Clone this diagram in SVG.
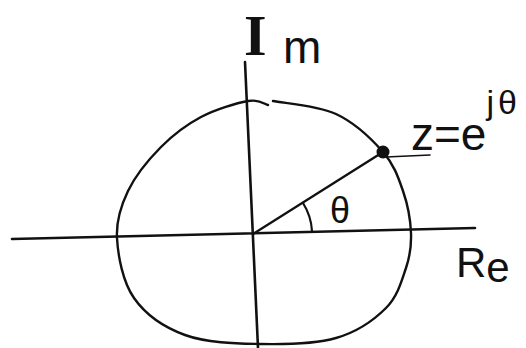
<svg xmlns="http://www.w3.org/2000/svg" width="526" height="348" viewBox="0 0 526 348">
<style>
.ln{fill:none;stroke:#111;stroke-linecap:round;stroke-linejoin:round}
.t{fill:#111;font-family:"Liberation Sans",Arial,sans-serif}
.s{fill:#111;font-family:"Liberation Serif","Times New Roman",serif;font-weight:bold}
</style>
<rect width="526" height="348" fill="#fff"/>
<g id="axes">
<path class="ln" stroke-width="2.6" d="M12,239 L475,228"/>
<path class="ln" stroke-width="2.6" d="M245,62 L258,348"/>
</g>
<g id="circle">
<path class="ln" stroke-width="2.4" d="M268,105 C264.7,104.3 259.2,99 248,101 C236.8,103 215.5,109.3 201,117 C186.5,124.7 173.2,134.7 161,147 C148.8,159.3 135.3,175.8 128,191 C120.7,206.2 116,220.2 117,238 C118,255.8 122.7,281.8 134,298 C145.3,314.2 164,327.3 185,335 C206,342.7 234.8,343.5 260,344 C285.2,344.5 315,344 336,338 C357,332 374.3,319.7 386,308 C397.7,296.3 401.8,280.5 406,268 C410.2,255.5 411.5,245.8 411,233 C410.5,220.2 407.7,204.5 403,191 C398.3,177.5 394.2,164.8 383,152 C371.8,139.2 354.3,122.5 336,114 C317.7,105.5 283.5,103.2 273,101"/>
</g>
<g id="radius">
<path class="ln" stroke-width="2.4" d="M253,234 L383,152"/>
<path class="ln" stroke-width="2.2" d="M303,203 A59,59 0 0 1 312,231"/>
<path class="ln" stroke-width="1.6" stroke="#333" d="M386,157 L430,155"/>
</g>
<g id="point">
<circle cx="383" cy="152" r="6.5" fill="#111"/>
</g>
<g id="labels">
<text class="s" x="244" y="55" font-size="58">I</text>
<text class="t" x="283" y="63" font-size="46">m</text>
<text class="t" x="456" y="277" font-size="42">R<tspan dy="5">e</tspan></text>
<text class="t" x="330" y="223" font-size="36">θ</text>
<text class="t" x="411" y="150" font-size="46">z=e<tspan font-size="34" dy="-36">j</tspan><tspan font-size="34" dx="4">θ</tspan></text>
</g>
</svg>
